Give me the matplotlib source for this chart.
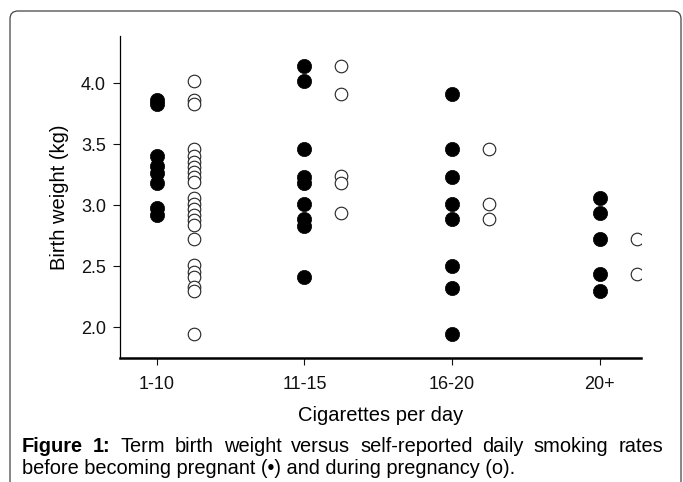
import matplotlib
matplotlib.use("Agg")
import matplotlib.pyplot as plt
from matplotlib.patches import FancyBboxPatch
from matplotlib.transforms import IdentityTransform

plt.rcParams['font.family'] = ['Liberation Sans', 'DejaVu Sans']

categories = ["1-10", "11-15", "16-20", "20+"]

# birth weight (kg) before becoming pregnant (filled) and during pregnancy (open)
before = [
    [3.86, 3.83, 3.40, 3.32, 3.26, 3.18, 2.98, 2.92],
    [4.14, 4.02, 3.46, 3.23, 3.18, 3.01, 2.89, 2.83, 2.41],
    [3.91, 3.46, 3.23, 3.01, 2.89, 2.50, 2.32, 1.95],
    [3.06, 2.94, 2.72, 2.44, 2.30],
]
during = [
    [4.02, 3.86, 3.83, 3.46, 3.40, 3.35, 3.31, 3.27, 3.23, 3.19,
     3.06, 3.01, 2.97, 2.92, 2.88, 2.84, 2.72, 2.51, 2.45, 2.41,
     2.33, 2.30, 1.95],
    [4.14, 3.91, 3.24, 3.18, 2.94],
    [3.46, 3.01, 2.89],
    [2.72, 2.44],
]
yticks = [2.0, 2.5, 3.0, 3.5, 4.0]

W, H = 683, 482
fig = plt.figure(figsize=(W / 100, H / 100), dpi=100)

# rounded frame around the figure, open at the bottom
frame = FancyBboxPatch((0.10, -0.3), 6.71, 4.71 + 0.3,
                       boxstyle="round,pad=0,rounding_size=0.08",
                       transform=fig.dpi_scale_trans, fill=False,
                       edgecolor="#444444", linewidth=0.9, clip_on=False)
fig.patches.append(frame)

ax = fig.add_axes([120 / W, 1 - 358 / H, (641 - 120) / W, (358 - 36) / H])

for i, cat in enumerate(categories):
    ax.scatter([i] * len(before[i]), before[i], s=105, color="black",
               edgecolors="black", linewidths=0.5, zorder=3)
    ax.scatter([i + 0.25] * len(during[i]), during[i], s=82,
               facecolors="white", edgecolors="#222222", linewidths=0.8,
               zorder=3)

ax.set_xlim(-0.25, 3.28)
ax.set_ylim(1.75, 4.385)
ax.set_xticks(range(len(categories)))
ax.set_xticklabels(categories)
ax.set_yticks(yticks)
ax.set_yticklabels([f"{v:.1f}" for v in yticks])

for side in ("top", "right"):
    ax.spines[side].set_visible(False)
ax.spines["left"].set_linewidth(0.9)
ax.spines["bottom"].set_linewidth(1.8)
ax.tick_params(axis="both", direction="out", length=5, width=0.8,
               labelsize=13, colors="#111111")
ax.tick_params(axis="x", pad=8)
ax.tick_params(axis="y", pad=5)

ax.set_xlabel("Cigarettes per day", fontsize=14.5, labelpad=9)
ax.set_ylabel("Birth weight (kg)", fontsize=14.5, labelpad=9)

# caption: first line justified word by word
fig.canvas.draw()
renderer = fig.canvas.get_renderer()
line1 = [("Figure", "bold"), ("1:", "bold"), ("Term", "normal"),
         ("birth", "normal"), ("weight", "normal"), ("versus", "normal"),
         ("self-reported", "normal"), ("daily", "normal"),
         ("smoking", "normal"), ("rates", "normal")]
x_left, x_right = 22, 663
cap_size = 14.4
y1 = H - 452
texts = []
for word, weight in line1:
    t = fig.text(0, y1, word, fontsize=cap_size, fontweight=weight,
                 transform=IdentityTransform(), va="baseline", ha="left")
    texts.append(t)
widths = [t.get_window_extent(renderer).width for t in texts]
gap = (x_right - x_left - sum(widths)) / (len(texts) - 1)
x = x_left
for t, w in zip(texts, widths):
    t.set_x(x)
    x += w + gap

fig.text(x_left, H - 474,
         "before becoming pregnant (\u2022) and during pregnancy (o).",
         fontsize=cap_size, transform=IdentityTransform(), va="baseline",
         ha="left")

fig.savefig("out.png", dpi=100)
